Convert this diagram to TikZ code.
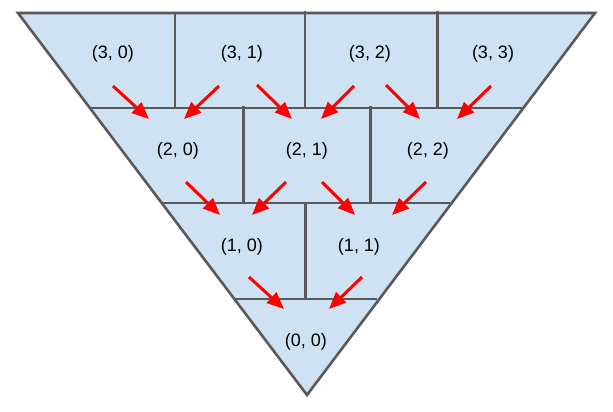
\documentclass[tikz,border=0pt]{standalone}
\usepackage{fontspec}
\setmainfont{Liberation Sans}
\usetikzlibrary{arrows.meta}
\definecolor{cellfill}{HTML}{CFE2F3}
\definecolor{edge}{HTML}{595959}
\definecolor{arrred}{HTML}{FF0000}
\tikzset{
  grid line/.style={draw=edge, line width=2.6pt},
  lbl/.style={font=\fontsize{18}{20}\selectfont, text=black, inner sep=0pt},
  flow/.style={draw=arrred, line width=3pt, -{Triangle[length=17pt,width=14pt]}, shorten >=0pt},
}
\begin{document}
\begin{tikzpicture}[x=1pt,y=-1pt]
\useasboundingbox (0,0) rectangle (613,412);
% triangle body
\coordinate (TL) at (18,13);
\coordinate (TR) at (595,13);
\coordinate (AP) at (307,395);
\fill[cellfill] (TL) -- (TR) -- (AP) -- cycle;
% row boundaries
\draw[grid line] (90.5,108) -- (522,108);
\draw[grid line] (163,203) -- (450,203);
\draw[grid line] (233,299) -- (377,299);
% dividers, row 3
\draw[grid line] (175,13) -- (175,108);
\draw[grid line] (305,11) -- (305,108);
\draw[grid line] (437.5,11) -- (437.5,108);
% dividers, row 2
\draw[grid line] (243.5,106) -- (243.5,203);
\draw[grid line] (370.5,106) -- (370.5,203);
% divider, row 1
\draw[grid line] (305.5,203) -- (305.5,299);
% outline
\draw[grid line, line join=miter] (TL) -- (TR) -- (AP) -- cycle;
% labels
\node[lbl] (n30) at (113,54) {(3, 0)};
\node[lbl] (n31) at (242,54) {(3, 1)};
\node[lbl] (n32) at (370,54) {(3, 2)};
\node[lbl] (n33) at (493,54) {(3, 3)};
\node[lbl] (n20) at (178,151) {(2, 0)};
\node[lbl] (n21) at (307,151) {(2, 1)};
\node[lbl] (n22) at (428,151) {(2, 2)};
\node[lbl] (n10) at (242,247) {(1, 0)};
\node[lbl] (n11) at (359,247) {(1, 1)};
\node[lbl] (n00) at (306,342) {(0, 0)};
% arrow end points
\coordinate (a1s) at (113,86);  \coordinate (a1e) at (149,119);
\coordinate (a2s) at (219,86);  \coordinate (a2e) at (184,119);
\coordinate (a3s) at (257,85);  \coordinate (a3e) at (292,119);
\coordinate (a4s) at (354,86);  \coordinate (a4e) at (321,119);
\coordinate (a5s) at (386,85);  \coordinate (a5e) at (420,119);
\coordinate (a6s) at (491,86);  \coordinate (a6e) at (457,119);
\coordinate (b1s) at (186,182); \coordinate (b1e) at (220,215);
\coordinate (b2s) at (286,182); \coordinate (b2e) at (252,215);
\coordinate (b3s) at (322,182); \coordinate (b3e) at (355,215);
\coordinate (b4s) at (426,182); \coordinate (b4e) at (392,215);
\coordinate (c1s) at (249,277); \coordinate (c1e) at (284,309);
\coordinate (c2s) at (362,277); \coordinate (c2e) at (329,309);
% arrows
\draw[flow] (a1s) -- (a1e);
\draw[flow] (a2s) -- (a2e);
\draw[flow] (a3s) -- (a3e);
\draw[flow] (a4s) -- (a4e);
\draw[flow] (a5s) -- (a5e);
\draw[flow] (a6s) -- (a6e);
\draw[flow] (b1s) -- (b1e);
\draw[flow] (b2s) -- (b2e);
\draw[flow] (b3s) -- (b3e);
\draw[flow] (b4s) -- (b4e);
\draw[flow] (c1s) -- (c1e);
\draw[flow] (c2s) -- (c2e);
\end{tikzpicture}
\end{document}
